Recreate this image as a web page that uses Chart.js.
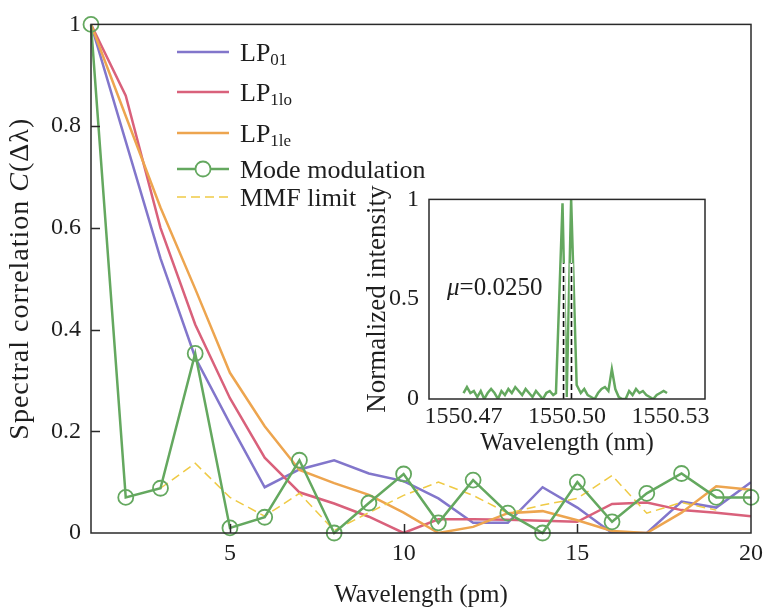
<!DOCTYPE html>
<html>
<head>
<meta charset="utf-8">
<script src="https://cdn.jsdelivr.net/npm/chart.js@4.4.0/dist/chart.umd.min.js"></script>
<style>
  html, body { margin: 0; padding: 0; background: #fff; }
  #wrap { position: relative; width: 769px; height: 609px; }
  #main { position: absolute; left: 0; top: 0; }
  #inset { position: absolute; left: 360px; top: 175px; }
</style>
</head>
<body>
<div id="wrap">
  <canvas id="main" width="769" height="609"></canvas>
  <canvas id="inset" width="400" height="290"></canvas>
</div>
<script>
// main plot data
const wavelengthPm = [1, 2, 3, 4, 5, 6, 7, 8, 9, 10, 11, 12, 13, 14, 15, 16, 17, 18, 19, 20];
const lp01 = [1, 0.77, 0.54, 0.345, 0.215, 0.09, 0.125, 0.143, 0.117, 0.102, 0.068, 0.02, 0.02, 0.09, 0.05, 0.0, 0.0, 0.062, 0.05, 0.10];
const lp1lo = [1, 0.86, 0.60, 0.41, 0.265, 0.148, 0.08, 0.058, 0.032, 0.0, 0.027, 0.027, 0.026, 0.024, 0.022, 0.057, 0.06, 0.045, 0.04, 0.033];
const lp1le = [1, 0.82, 0.64, 0.48, 0.315, 0.21, 0.124, 0.098, 0.075, 0.04, 0.0, 0.012, 0.039, 0.043, 0.025, 0.004, 0.0, 0.04, 0.092, 0.085];
const modeModulation = [1, 0.07, 0.088, 0.353, 0.01, 0.031, 0.143, 0.0, 0.059, 0.116, 0.02, 0.104, 0.039, 0.0, 0.1, 0.022, 0.078, 0.117, 0.07, 0.07];
const mmfLimit = [null, null, 0.088, 0.137, 0.07, 0.033, 0.078, 0.005, 0.04, 0.074, 0.1, 0.074, 0.039, 0.055, 0.068, 0.113, 0.039, 0.06, 0.045, null];
const xTicks = [5, 10, 15, 20];
const yTicks = [0, 0.2, 0.4, 0.6, 0.8, 1];

// inset spectrum data
const insetNm = [
  1550.470, 1550.471, 1550.472, 1550.473, 1550.474, 1550.475, 1550.476, 1550.477, 1550.478,
  1550.479, 1550.480, 1550.481, 1550.482, 1550.483, 1550.484, 1550.485, 1550.486, 1550.487,
  1550.488, 1550.489, 1550.490, 1550.491, 1550.492, 1550.493, 1550.494, 1550.495, 1550.496,
  1550.4968, 1550.4987, 1550.4999, 1550.5012, 1550.5028,
  1550.504, 1550.505, 1550.506, 1550.507, 1550.508, 1550.509, 1550.510, 1550.511, 1550.512,
  1550.513, 1550.514, 1550.515, 1550.516, 1550.517, 1550.518, 1550.519, 1550.520, 1550.521,
  1550.522, 1550.523, 1550.524, 1550.525, 1550.526, 1550.527, 1550.528, 1550.529
];
const insetIntensity = [
  0.03, 0.06, 0.03, 0.04, 0.01, 0.04, 0.00, 0.03, 0.05,
  0.03, 0.00, 0.04, 0.02, 0.05, 0.03, 0.06, 0.04, 0.02,
  0.05, 0.03, 0.01, 0.04, 0.02, 0.00, 0.03, 0.04, 0.02,
  0.03, 0.98, 0.01, 1.0, 0.07,
  0.03, 0.05, 0.02, 0.01, 0.00, 0.03, 0.05, 0.06, 0.04,
  0.15, 0.05, 0.01, 0.00, 0.00, 0.04, 0.02, 0.05, 0.03,
  0.04, 0.02, 0.01, 0.00, 0.02, 0.03, 0.04, 0.03
];
const insetXTicks = [1550.47, 1550.50, 1550.53];
const insetYTicks = [0, 0.5, 1];
const peakMarks = [1550.4990, 1550.5013];

const SERIF = '"Liberation Serif", "Times New Roman", serif';
const INK = '#2a2a2a';
const PURPLE = '#8276cb', RED = '#d9617b', ORANGE = '#eda54f', GREEN = '#64a85f', YELLOW = '#efca45';

function pts(xs, ys) {
  return xs.map((x, i) => ({ x: x, y: ys[i] }));
}

// draw a run of text pieces with different fonts, centred on (0,0) along x
function richText(ctx, parts, align) {
  let total = 0;
  parts.forEach(p => { ctx.font = p.font; total += ctx.measureText(p.t).width; });
  let x = align === 'center' ? -total / 2 : 0;
  parts.forEach(p => {
    ctx.font = p.font;
    ctx.fillText(p.t, x, p.dy || 0);
    x += ctx.measureText(p.t).width;
  });
}

const mainDecor = {
  id: 'mainDecor',
  afterDraw(chart) {
    const { ctx, chartArea: a, scales } = chart;
    ctx.save();
    ctx.strokeStyle = INK;
    ctx.lineWidth = 1.5;
    ctx.strokeRect(a.left, a.top, a.right - a.left, a.bottom - a.top);
    // inward ticks
    ctx.beginPath();
    yTicks.slice(1, -1).forEach(v => {
      const y = Math.round(scales.y.getPixelForValue(v)) + 0.5;
      ctx.moveTo(a.left, y); ctx.lineTo(a.left + 9, y);
    });
    xTicks.slice(0, -1).forEach(v => {
      const x = Math.round(scales.x.getPixelForValue(v)) + 0.5;
      ctx.moveTo(x, a.bottom); ctx.lineTo(x, a.bottom - 9);
    });
    ctx.stroke();

    ctx.fillStyle = '#1e1e1e';
    ctx.textBaseline = 'middle';
    ctx.textAlign = 'left';
    // x title
    ctx.save();
    ctx.translate((a.left + a.right) / 2, 595);
    richText(ctx, [{ t: 'Wavelength (pm)', font: '25px ' + SERIF }], 'center');
    ctx.restore();
    // y title
    ctx.save();
    ctx.translate(21, (a.top + a.bottom) / 2);
    ctx.rotate(-Math.PI / 2);
    ctx.letterSpacing = '1px';
    richText(ctx, [
      { t: 'Spectral correlation ', font: '28px ' + SERIF },
      { t: 'C', font: 'italic 28px ' + SERIF },
      { t: '(Δλ)', font: '28px ' + SERIF }
    ], 'center');
    ctx.restore();

    // legend
    const rows = [
      { y: 52, color: PURPLE, main: 'LP', sub: '01' },
      { y: 92, color: RED, main: 'LP', sub: '1lo' },
      { y: 133, color: ORANGE, main: 'LP', sub: '1le' },
      { y: 169, color: GREEN, main: 'Mode modulation', marker: true },
      { y: 197, color: YELLOW, main: 'MMF limit', dash: true }
    ];
    ctx.textBaseline = 'alphabetic';
    rows.forEach(r => {
      ctx.save();
      ctx.strokeStyle = r.color;
      ctx.lineWidth = r.dash ? 1.5 : 2.5;
      if (r.dash) ctx.setLineDash([9, 5]);
      ctx.beginPath();
      ctx.moveTo(177, r.y); ctx.lineTo(229, r.y);
      ctx.stroke();
      if (r.marker) {
        ctx.setLineDash([]);
        ctx.lineWidth = 1.8;
        ctx.beginPath();
        ctx.arc(203, r.y, 7.5, 0, Math.PI * 2);
        ctx.fillStyle = '#fff';
        ctx.fill();
        ctx.stroke();
      }
      ctx.restore();
      ctx.save();
      ctx.translate(240, r.y + 8.5);
      const parts = [{ t: r.main, font: '26px ' + SERIF }];
      if (r.sub) parts.push({ t: r.sub, font: '17px ' + SERIF, dy: 4 });
      richText(ctx, parts, 'left');
      ctx.restore();
    });
    ctx.restore();
  }
};

const insetDecor = {
  id: 'insetDecor',
  afterDraw(chart) {
    const { ctx, chartArea: a, scales } = chart;
    ctx.save();
    // peak markers
    peakMarks.forEach(v => {
      const x = scales.x.getPixelForValue(v);
      const y0 = scales.y.getPixelForValue(0), y1 = scales.y.getPixelForValue(0.68);
      ctx.strokeStyle = '#fff';
      ctx.lineWidth = 3.5;
      ctx.beginPath(); ctx.moveTo(x, y0); ctx.lineTo(x, y1); ctx.stroke();
      ctx.strokeStyle = '#111';
      ctx.lineWidth = 1.6;
      ctx.setLineDash([6, 3]);
      ctx.beginPath(); ctx.moveTo(x, y0); ctx.lineTo(x, y1); ctx.stroke();
      ctx.setLineDash([]);
    });
    ctx.strokeStyle = INK;
    ctx.lineWidth = 1.5;
    ctx.strokeRect(a.left, a.top, a.right - a.left, a.bottom - a.top);

    ctx.fillStyle = '#1e1e1e';
    ctx.textBaseline = 'middle';
    ctx.save();
    ctx.translate((a.left + a.right) / 2, 268);
    richText(ctx, [{ t: 'Wavelength (nm)', font: '25px ' + SERIF }], 'center');
    ctx.restore();
    ctx.save();
    ctx.translate(18, (a.top + a.bottom) / 2);
    ctx.rotate(-Math.PI / 2);
    richText(ctx, [{ t: 'Normalized intensity', font: '27px ' + SERIF }], 'center');
    ctx.restore();
    ctx.textBaseline = 'alphabetic';
    ctx.save();
    ctx.translate(87, 120);
    richText(ctx, [
      { t: 'μ', font: 'italic 25px ' + SERIF },
      { t: '=0.0250', font: '25px ' + SERIF }
    ], 'left');
    ctx.restore();
    ctx.restore();
  }
};

const tickFont = { family: SERIF, size: 24 };

new Chart(document.getElementById('main').getContext('2d'), {
  type: 'line',
  data: {
    datasets: [
      { label: 'Mode modulation', data: pts(wavelengthPm, modeModulation), borderColor: GREEN, borderWidth: 2.5,
        pointRadius: 7.5, pointBorderWidth: 1.8, pointBorderColor: GREEN, pointBackgroundColor: 'rgba(0,0,0,0)',
        clip: false, order: 0 },
      { label: 'MMF limit', data: pts(wavelengthPm, mmfLimit), borderColor: YELLOW, borderWidth: 1.5,
        borderDash: [9, 5], pointRadius: 0, order: 1 },
      { label: 'LP1le', data: pts(wavelengthPm, lp1le), borderColor: ORANGE, borderWidth: 2.5, pointRadius: 0, order: 2 },
      { label: 'LP1lo', data: pts(wavelengthPm, lp1lo), borderColor: RED, borderWidth: 2.5, pointRadius: 0, order: 3 },
      { label: 'LP01', data: pts(wavelengthPm, lp01), borderColor: PURPLE, borderWidth: 2.5, pointRadius: 0, order: 4 }
    ]
  },
  options: {
    responsive: false,
    animation: false,
    devicePixelRatio: 1,
    spanGaps: false,
    layout: { padding: { top: 21, right: 14, left: 0, bottom: 0 } },
    plugins: { legend: { display: false }, tooltip: { enabled: false } },
    scales: {
      x: {
        type: 'linear', min: 1, max: 20,
        grid: { display: false, drawTicks: false }, border: { display: false },
        ticks: { font: tickFont, color: '#1e1e1e', padding: 6, maxRotation: 0, callback: v => String(v) },
        afterBuildTicks: s => { s.ticks = xTicks.map(v => ({ value: v })); },
        afterFit: s => { s.height = 76; }
      },
      y: {
        type: 'linear', min: 0, max: 1,
        grid: { display: false, drawTicks: false }, border: { display: false },
        ticks: { font: tickFont, color: '#1e1e1e', padding: 10, callback: v => String(v) },
        afterBuildTicks: s => { s.ticks = yTicks.map(v => ({ value: v })); },
        afterFit: s => { s.width = 91; }
      }
    }
  },
  plugins: [mainDecor]
});

new Chart(document.getElementById('inset').getContext('2d'), {
  type: 'line',
  data: {
    datasets: [
      { label: 'spectrum', data: pts(insetNm, insetIntensity), borderColor: GREEN, borderWidth: 2.5, pointRadius: 0 }
    ]
  },
  options: {
    responsive: false,
    animation: false,
    devicePixelRatio: 1,
    layout: { padding: { top: 23, right: 55, left: 0, bottom: 0 } },
    plugins: { legend: { display: false }, tooltip: { enabled: false } },
    scales: {
      x: {
        type: 'linear', min: 1550.46, max: 1550.54,
        grid: { display: false, drawTicks: false }, border: { display: false },
        ticks: { font: tickFont, color: '#1e1e1e', padding: 3, maxRotation: 0, callback: v => v.toFixed(2) },
        afterBuildTicks: s => { s.ticks = insetXTicks.map(v => ({ value: v })); },
        afterFit: s => { s.height = 66; }
      },
      y: {
        type: 'linear', min: 0, max: 1,
        grid: { display: false, drawTicks: false }, border: { display: false },
        ticks: { font: tickFont, color: '#1e1e1e', padding: 10, callback: v => String(v) },
        afterBuildTicks: s => { s.ticks = insetYTicks.map(v => ({ value: v })); },
        afterFit: s => { s.width = 69; }
      }
    }
  },
  plugins: [insetDecor]
});
</script>
</body>
</html>
